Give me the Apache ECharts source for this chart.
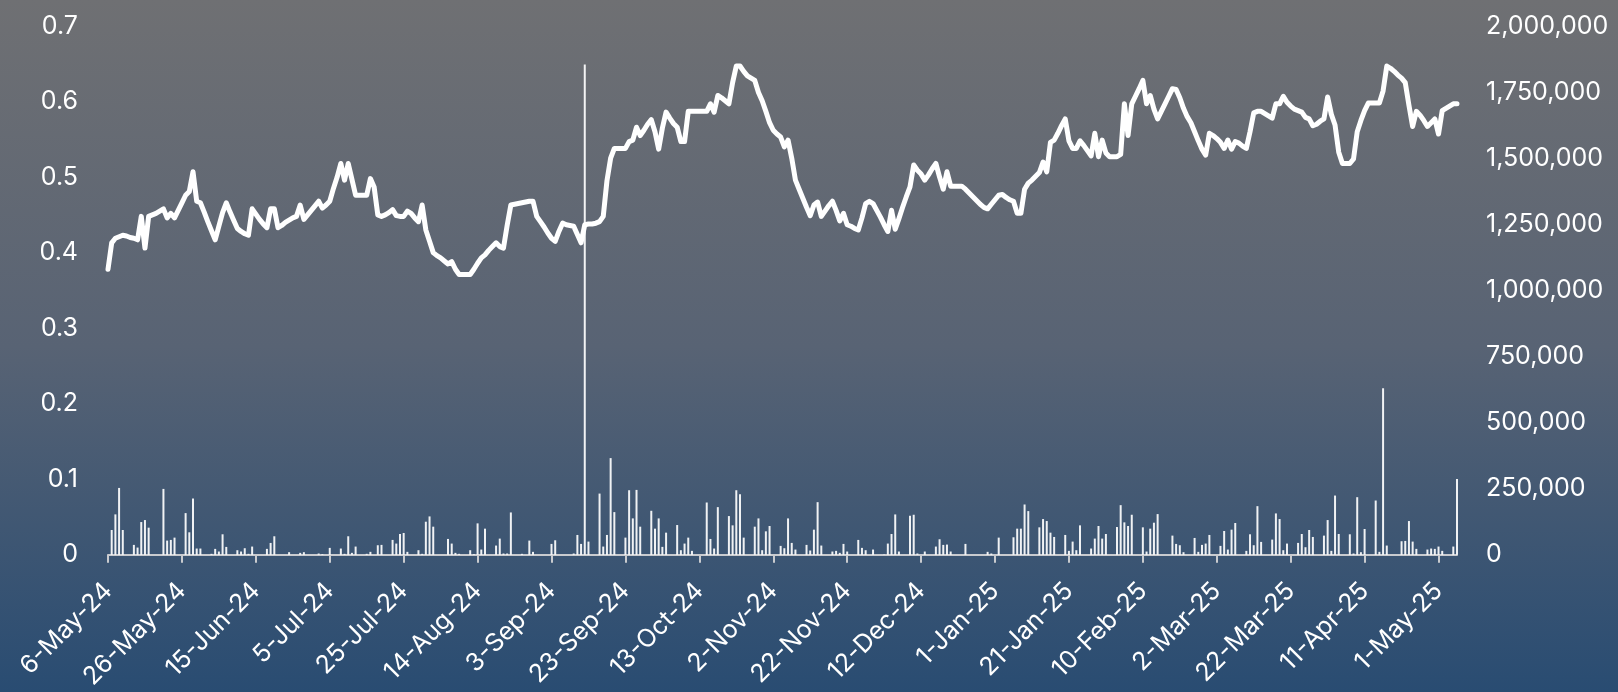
<!DOCTYPE html>
<html>
<head>
<meta charset="utf-8">
<script src="https://cdn.jsdelivr.net/npm/echarts@6/dist/echarts.min.js"></script>
<style>
html,body{margin:0;padding:0;width:1618px;height:692px;overflow:hidden;}
#chart{width:1618px;height:692px;}
</style>
</head>
<body>
<div id="chart"></div>
<script>
// Daily categories from 6-May-24 to 6-May-25
const startDate = [2024, 4, 6];
const dayCount = 366;
const monthNames = ['Jan','Feb','Mar','Apr','May','Jun','Jul','Aug','Sep','Oct','Nov','Dec'];

// Price (left axis), one value per calendar day, rows = weeks starting Monday
const price = [
0.378,0.413,0.419,0.421,0.423,0.422,0.420,
0.419,0.417,0.448,0.406,0.448,0.450,0.452,
0.455,0.458,0.446,0.452,0.446,0.456,0.466,
0.476,0.481,0.507,0.468,0.466,0.454,0.441,
0.429,0.417,0.435,0.453,0.466,0.454,0.443,
0.432,0.428,0.425,0.423,0.458,0.451,0.444,
0.438,0.433,0.458,0.458,0.433,0.436,0.440,
0.443,0.446,0.448,0.463,0.444,0.450,0.456,
0.462,0.468,0.459,0.463,0.468,0.485,0.500,
0.518,0.496,0.518,0.497,0.476,0.476,0.476,
0.476,0.498,0.487,0.450,0.448,0.450,0.453,
0.457,0.449,0.448,0.448,0.455,0.452,0.446,
0.441,0.463,0.430,0.415,0.400,0.396,0.393,
0.389,0.385,0.388,0.378,0.371,0.371,0.371,
0.371,0.378,0.386,0.393,0.397,0.403,0.408,
0.413,0.408,0.406,0.436,0.463,0.464,0.465,
0.466,0.467,0.468,0.468,0.448,0.441,0.434,
0.426,0.419,0.415,0.428,0.439,0.437,0.436,
0.435,0.424,0.413,0.437,0.438,0.438,0.439,
0.441,0.448,0.495,0.525,0.538,0.538,0.538,
0.538,0.547,0.549,0.566,0.555,0.562,0.570,
0.576,0.560,0.537,0.565,0.586,0.578,0.571,
0.566,0.547,0.547,0.587,0.587,0.587,0.587,
0.587,0.587,0.597,0.586,0.608,0.605,0.601,
0.597,0.625,0.647,0.647,0.640,0.634,0.631,
0.628,0.612,0.601,0.587,0.572,0.562,0.557,
0.553,0.540,0.549,0.525,0.496,0.484,0.472,
0.460,0.449,0.463,0.467,0.448,0.455,0.462,
0.468,0.456,0.442,0.452,0.437,0.435,0.432,
0.430,0.446,0.465,0.468,0.465,0.456,0.447,
0.437,0.428,0.456,0.431,0.445,0.460,0.474,
0.487,0.516,0.509,0.504,0.496,0.503,0.511,
0.518,0.500,0.484,0.507,0.488,0.488,0.488,
0.488,0.484,0.479,0.474,0.469,0.464,0.460,
0.458,0.464,0.470,0.476,0.477,0.473,0.470,
0.468,0.452,0.452,0.484,0.492,0.496,0.501,
0.506,0.520,0.507,0.546,0.549,0.558,0.568,
0.577,0.548,0.538,0.538,0.548,0.542,0.535,
0.528,0.558,0.527,0.549,0.532,0.527,0.527,
0.527,0.530,0.597,0.555,0.597,0.607,0.617,
0.628,0.597,0.608,0.590,0.577,0.587,0.597,
0.607,0.617,0.616,0.605,0.591,0.580,0.572,
0.560,0.548,0.537,0.529,0.558,0.555,0.551,
0.546,0.538,0.549,0.537,0.547,0.545,0.541,
0.538,0.560,0.585,0.587,0.587,0.584,0.581,
0.578,0.597,0.597,0.607,0.599,0.594,0.590,
0.588,0.586,0.579,0.577,0.568,0.570,0.574,
0.577,0.606,0.583,0.569,0.533,0.518,0.518,
0.518,0.524,0.560,0.575,0.588,0.598,0.598,
0.598,0.598,0.614,0.647,0.644,0.640,0.635,
0.631,0.625,0.595,0.567,0.587,0.582,0.575,
0.567,0.572,0.577,0.557,0.588,0.591,0.594,
0.597,0.597
];

// Volume (right axis), one value per calendar day
const volume = [
0,94000,153000,253000,94000,0,0,
37600,27500,124000,131500,102700,0,0,
0,249300,53900,56400,65100,0,0,
157800,85200,213000,23800,23800,0,0,
3800,22500,12500,77700,30000,0,0,
17500,12500,25000,3800,31300,0,0,
0,22500,45000,70200,0,0,0,
10000,0,0,7500,10000,0,0,
0,5000,2500,0,26300,0,0,
23800,3800,70200,7500,31300,0,0,
3800,11300,0,36300,37600,0,0,
56400,42600,78900,82700,11300,0,0,
17500,3800,125300,145300,106500,0,0,
0,60100,42600,7500,3800,0,0,
17500,2500,119000,20000,99000,0,0,
35100,61400,5000,5000,160300,0,0,
3800,0,53900,11300,0,0,0,
0,41300,55100,0,0,0,0,
5000,75200,41300,1854000,50100,0,0,
231700,31300,75200,365800,161600,0,0,
65100,244300,137800,245500,106500,0,0,
166600,99000,137800,30100,83900,0,0,
112700,17500,42600,65100,15000,0,0,
0,197900,60100,23800,180400,0,0,
146600,111500,244300,229200,65100,0,0,
106500,137800,17500,88900,109000,0,0,
33800,25000,137800,45100,20000,0,0,
37600,16300,95200,199200,35100,0,0,
12500,15000,7500,41300,12500,0,0,
56400,26300,17500,0,20000,0,0,
1300,42600,78900,152800,12500,0,0,
147800,151600,5000,0,12500,0,0,
31300,58900,37600,38800,12500,0,0,
0,41300,0,0,0,0,0,
11300,5000,0,65100,0,0,0,
66400,99000,99000,190400,165400,0,0,
104000,135300,127800,83900,67600,0,0,
75200,15000,50100,17500,111500,0,0,
23800,61400,109000,61400,78900,0,0,
105200,187900,122800,109000,151600,0,0,
104000,12500,99000,121500,154100,0,0,
0,72700,41300,36300,10000,0,0,
63900,11300,37600,42600,75200,0,0,
33800,90200,20000,95200,120300,0,0,
15000,77700,36300,184100,48900,0,0,
57600,156600,135300,17500,42600,0,0,
45100,78900,28800,94000,67600,0,0,
72700,131500,15000,224200,78900,0,0,
77700,5000,218000,10000,97700,0,0,
205400,11300,630000,35100,0,0,0,
51400,52600,127800,50100,22500,0,0,
20000,23800,22500,31300,15000,0,0,
31300,287000
];

// Axis settings
const leftTicks = {min: 0, max: 0.7, interval: 0.1};
const rightTicks = {min: 0, max: 2000000, interval: 250000};
const labelEvery = 20;

const categories = [];
for (let i = 0; i < dayCount; i++) {
  const dt = new Date(Date.UTC(startDate[0], startDate[1], startDate[2] + i));
  categories.push(dt.getUTCDate() + '-' + monthNames[dt.getUTCMonth()] + '-' + String(dt.getUTCFullYear()).slice(2));
}

const chart = echarts.init(document.getElementById('chart'), null, {renderer: 'canvas'});
const font = 'Inter, Liberation Sans, Arial, sans-serif';
chart.setOption({
  animation: false,
  backgroundColor: {
    type: 'linear', x: 0, y: 0, x2: 0, y2: 1,
    colorStops: [
      {offset: 0, color: '#6f7073'},
      {offset: 0.5, color: '#586374'},
      {offset: 1, color: '#294c72'}
    ]
  },
  grid: {left: 108, right: 161, top: 26, bottom: 135},
  xAxis: {
    type: 'category',
    data: categories,
    boundaryGap: false,
    axisLine: {lineStyle: {color: '#c9cbcf', width: 2}},
    axisTick: {show: true, interval: labelEvery - 1, length: 8, lineStyle: {color: '#c9cbcf', width: 2}},
    axisLabel: {
      interval: labelEvery - 1, rotate: 45, color: '#ffffff',
      fontSize: 25, fontFamily: font, margin: 32
    },
    splitLine: {show: false}
  },
  yAxis: [
    {
      type: 'value', min: leftTicks.min, max: leftTicks.max, interval: leftTicks.interval,
      position: 'left',
      axisLine: {show: false}, axisTick: {show: false}, splitLine: {show: false},
      axisLabel: {color: '#ffffff', fontSize: 25, fontFamily: font, margin: 30,
        formatter: v => String(Math.round(v * 10) / 10)}
    },
    {
      type: 'value', min: rightTicks.min, max: rightTicks.max, interval: rightTicks.interval,
      position: 'right',
      axisLine: {show: false}, axisTick: {show: false}, splitLine: {show: false},
      axisLabel: {color: '#ffffff', fontSize: 25, fontFamily: font, margin: 29,
        formatter: v => Number(v).toLocaleString('en-US')}
    }
  ],
  series: [
    {
      type: 'bar', yAxisIndex: 1, data: volume, barWidth: 2,
      itemStyle: {color: 'rgba(255,255,255,0.92)'}, z: 2
    },
    {
      type: 'line', yAxisIndex: 0, data: price, showSymbol: false, symbol: 'none',
      lineStyle: {color: '#ffffff', width: 5, join: 'round', cap: 'round'}, z: 3
    }
  ]
});
</script>
</body>
</html>
